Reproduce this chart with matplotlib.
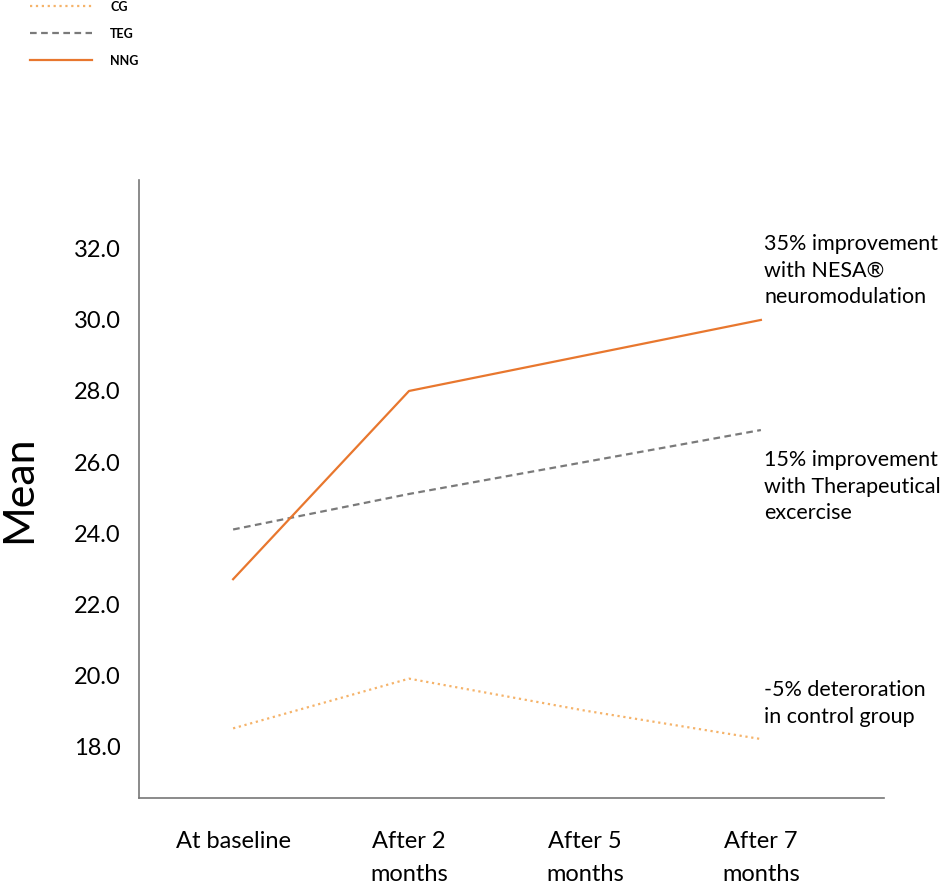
import numpy as np
import matplotlib
matplotlib.use('Agg')
import matplotlib.pyplot as plt

plt.rcParams['font.family'] = ['Lato', 'DejaVu Sans']

## data ##
periods = ['At baseline', 'After 2\nmonths', 'After 5\nmonths', 'After 7\nmonths']
cg  = [18.5, 19.9, 19.0, 18.2]
teg = [24.1, 25.1, 26.0, 26.9]
nng = [22.7, 28.0, 29.0, 30.0]
yticks = [18.0, 20.0, 22.0, 24.0, 26.0, 28.0, 30.0, 32.0]
notes = ['35% improvement\nwith NESA\u00ae\nneuromodulation',
         '15% improvement\nwith Therapeutical\nexcercise',
         '-5% deteroration\nin control group']
note_y = [31.4, 25.3, 19.2]

fig = plt.figure(figsize=(9.52, 8.92), dpi=100)
ax = fig.add_axes([0.146, 0.1054, 0.7826, 0.6928])

x = np.arange(len(periods))
l1, = ax.plot(x, cg, ':', color='#F5B36A', lw=1.6, label='CG')
l2, = ax.plot(x, teg, '--', color='#7a7a7a', lw=1.6, dashes=(3, 2), label='TEG')
l3, = ax.plot(x, nng, '-', color='#E8772E', lw=1.6, label='NNG')

ax.set_xlim(-0.535, 3.7)
ax.set_ylim(16.54, 33.94)
ax.set_xticks(x)
ax.set_xticklabels(periods, fontsize=17, linespacing=1.7, va='top')
ax.set_yticks(yticks)
ax.set_yticklabels(['%.1f' % v for v in yticks], fontsize=17)
ax.tick_params(axis='x', length=0, pad=24)
ax.tick_params(axis='y', length=0, pad=13)
ax.set_ylabel('Mean', fontsize=31, labelpad=26)

for s in ['top', 'right']:
    ax.spines[s].set_visible(False)
for s in ['left', 'bottom']:
    ax.spines[s].set_color('#777777')
    ax.spines[s].set_linewidth(1.2)

for t, yy in zip(notes, note_y):
    ax.text(3.02, yy, t, fontsize=15.5, va='center', ha='left', linespacing=1.4)

fig.legend(handles=[l1, l2, l3], loc='upper left', bbox_to_anchor=(0.02, 1.012),
           frameon=False, prop={'size': 9, 'weight': 'bold'},
           handlelength=4.9, handletextpad=1.5, labelspacing=1.2)

fig.savefig('out.png', dpi=100)
